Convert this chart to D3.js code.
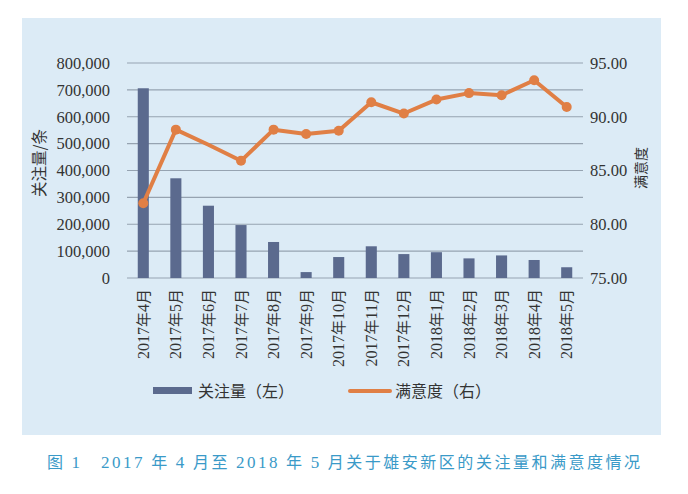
<!DOCTYPE html>
<html>
<head>
<meta charset="utf-8">
<script src="https://cdn.jsdelivr.net/npm/d3@7"></script>
<style>
  body { margin: 0; background: #fff; }
  svg { display: block; }
</style>
</head>
<body>
<svg class="chart" width="688" height="494"></svg>
<script>
// data
var months = ["2017年4月", "2017年5月", "2017年6月", "2017年7月", "2017年8月", "2017年9月", "2017年10月",
              "2017年11月", "2017年12月", "2018年1月", "2018年2月", "2018年3月", "2018年4月", "2018年5月"];
var attention = [706000, 371000, 269000, 197000, 134000, 22000, 78000,
                 118000, 89000, 96000, 73000, 84000, 67000, 40000];
var satisfaction = [81.95, 88.8, 87.4, 85.9, 88.8, 88.4, 88.7,
                    91.35, 90.3, 91.6, 92.2, 92.0, 93.4, 90.9];
var hiddenMarkers = ["2017年6月"];   // no dot drawn there in the original
var leftTicks = [0, 100000, 200000, 300000, 400000, 500000, 600000, 700000, 800000];
var rightTicks = [75, 80, 85, 90, 95];

const NUM_FONT = "'Liberation Serif', 'DejaVu Serif', serif";
const CJK_FONT = "'Noto Sans CJK SC', sans-serif";
const BAR_COLOR = "#5b6a8e";
const LINE_COLOR = "#e07f45";
const GRID_COLOR = "#96a3b1";
const TEXT_COLOR = "#333";

const PLOT_LEFT = 127;
const PLOT_RIGHT = 583;
const PLOT_TOP = 63;
const PLOT_BOTTOM = 278;

var chart = d3.select(".chart");

// light blue panel
chart.append("rect")
     .attr("x", 22).attr("y", 18)
     .attr("width", 639).attr("height", 417)
     .attr("fill", "#dcebf6");

var x = d3.scaleBand().domain(months).range([PLOT_LEFT, PLOT_RIGHT]).paddingInner(0.66).paddingOuter(0.33);
var yLeft = d3.scaleLinear().domain([0, 800000]).range([PLOT_BOTTOM, PLOT_TOP]);
var yRight = d3.scaleLinear().domain([75, 95]).range([PLOT_BOTTOM, PLOT_TOP]);

// gridlines (one per left tick)
chart.append("g")
     .selectAll("line")
     .data(leftTicks)
     .enter().append("line")
     .attr("x1", PLOT_LEFT).attr("x2", PLOT_RIGHT)
     .attr("y1", function(d) { return yLeft(d); })
     .attr("y2", function(d) { return yLeft(d); })
     .attr("stroke", GRID_COLOR)
     .attr("stroke-width", 1.2);

// left axis labels
var leftAxis = chart.append("g")
     .attr("transform", "translate(110,0)")
     .attr("font-family", NUM_FONT)
     .call(d3.axisLeft(yLeft).tickValues(leftTicks).tickFormat(d3.format(",")).tickSize(0).tickPadding(0));
leftAxis.attr("font-family", NUM_FONT);
leftAxis.select(".domain").remove();
leftAxis.selectAll("text")
        .attr("font-family", NUM_FONT)
        .attr("font-size", "16.5px")
        .attr("fill", TEXT_COLOR);

// right axis labels
var rightAxis = chart.append("g")
     .attr("transform", "translate(590,0)")
     .call(d3.axisRight(yRight).tickValues(rightTicks).tickFormat(d3.format(".2f")).tickSize(0).tickPadding(0));
rightAxis.attr("font-family", NUM_FONT);
rightAxis.select(".domain").remove();
rightAxis.selectAll("text")
         .attr("font-family", NUM_FONT)
         .attr("font-size", "16.5px")
         .attr("fill", TEXT_COLOR);

// axis titles
chart.append("text")
     .attr("transform", "translate(40,163) rotate(-90)")
     .attr("text-anchor", "middle")
     .attr("dy", "0.35em")
     .attr("font-family", CJK_FONT)
     .attr("font-size", "15.5px")
     .attr("fill", TEXT_COLOR)
     .text("关注量/条");
chart.append("text")
     .attr("transform", "translate(641,168) rotate(-90)")
     .attr("text-anchor", "middle")
     .attr("dy", "0.35em")
     .attr("font-family", CJK_FONT)
     .attr("font-size", "14px")
     .attr("fill", TEXT_COLOR)
     .text("满意度");

// bars
chart.append("g")
     .selectAll("rect")
     .data(months)
     .enter().append("rect")
     .attr("x", function(d) { return x(d); })
     .attr("y", function(d, i) { return yLeft(attention[i]); })
     .attr("width", x.bandwidth())
     .attr("height", function(d, i) { return yLeft(0) - yLeft(attention[i]); })
     .attr("fill", BAR_COLOR);

// satisfaction line
var cx = function(d) { return x(d) + x.bandwidth() / 2; };
var line = d3.line()
     .x(function(d) { return cx(d); })
     .y(function(d, i) { return yRight(satisfaction[i]); });
chart.append("path")
     .datum(months)
     .attr("d", line)
     .attr("fill", "none")
     .attr("stroke", LINE_COLOR)
     .attr("stroke-width", 4)
     .attr("stroke-linejoin", "round");
chart.append("g")
     .selectAll("circle")
     .data(months)
     .enter().append("circle")
     .filter(function(d) { return hiddenMarkers.indexOf(d) < 0; })
     .attr("cx", function(d) { return cx(d); })
     .attr("cy", function(d) { return yRight(satisfaction[months.indexOf(d)]); })
     .attr("r", 5)
     .attr("fill", LINE_COLOR);

// split a string so digits go serif and the rest CJK sans
function mixedText(sel, str, numSize, cjkSize) {
   str.match(/[\d.]+|[^\d.]+/g).forEach(function(part) {
      var isNum = /\d/.test(part);
      sel.append("tspan")
         .attr("font-family", isNum ? NUM_FONT : CJK_FONT)
         .attr("font-size", isNum ? numSize : cjkSize)
         .text(part);
   });
}

// month labels, rotated
chart.append("g")
     .selectAll("text")
     .data(months)
     .enter().append("text")
     .attr("transform", function(d) { return "translate(" + cx(d) + ",289) rotate(-90)"; })
     .attr("text-anchor", "end")
     .attr("dy", "0.35em")
     .attr("fill", TEXT_COLOR)
     .each(function(d) { mixedText(d3.select(this), d, "16px", "15px"); });

// legend
var legend = chart.append("g");
legend.append("rect")
      .attr("x", 153).attr("y", 387)
      .attr("width", 39).attr("height", 7)
      .attr("fill", BAR_COLOR);
legend.append("text")
      .attr("x", 198).attr("y", 391)
      .attr("dy", "0.35em")
      .attr("font-family", CJK_FONT)
      .attr("font-size", "16px")
      .attr("fill", TEXT_COLOR)
      .text("关注量（左）");
legend.append("line")
      .attr("x1", 350).attr("x2", 390)
      .attr("y1", 391).attr("y2", 391)
      .attr("stroke", LINE_COLOR)
      .attr("stroke-width", 4)
      .attr("stroke-linecap", "round");
legend.append("text")
      .attr("x", 395).attr("y", 391)
      .attr("dy", "0.35em")
      .attr("font-family", CJK_FONT)
      .attr("font-size", "16px")
      .attr("fill", TEXT_COLOR)
      .text("满意度（右）");

// caption
var caption = chart.append("text")
     .attr("x", 47).attr("y", 462)
     .attr("dy", "0.35em")
     .attr("fill", "#3a9ac8")
     .attr("textLength", 593)
     .attr("lengthAdjust", "spacing");
mixedText(caption, "图 1　2017 年 4 月至 2018 年 5 月关于雄安新区的关注量和满意度情况", "17px", "16px");
</script>
</body>
</html>
